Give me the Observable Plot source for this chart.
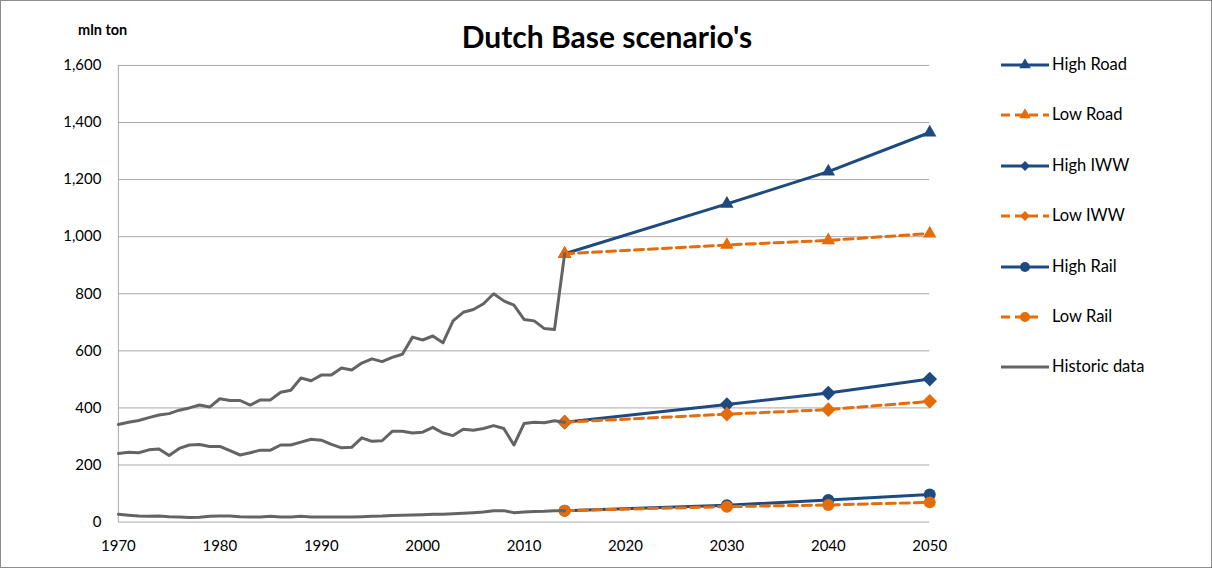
<!DOCTYPE html>
<html>
<head>
<meta charset="utf-8">
<script src="https://cdn.jsdelivr.net/npm/d3@7"></script>
<script src="https://cdn.jsdelivr.net/npm/@observablehq/plot@0.6"></script>
<style>
  html, body { margin: 0; padding: 0; background: #fff; }
  #wrap { position: relative; width: 1212px; height: 568px; box-sizing: border-box; border: 1px solid #8c8c8c; overflow: hidden; font-family: Lato, "Open Sans", sans-serif; }
  #chart { position: absolute; left: -1px; top: -1px; }
  #title { position: absolute; left: 0; width: 1212px; top: 17px; line-height: 36px; text-align: center; font-size: 30px; font-weight: bold; color: #000; }
  #unit { position: absolute; left: 77px; top: 20px; font-size: 14.5px; font-weight: bold; line-height: 18px; }
  #legend { position: absolute; left: 999px; top: 0; }
  .item { position: absolute; left: 0; width: 210px; height: 22px; }
  .item svg { position: absolute; left: 0; top: 0; }
  .item span { position: absolute; left: 52px; top: 0px; font-size: 16.5px; line-height: 20px; white-space: nowrap; color: #000; }
</style>
</head>
<body>
<div id="wrap">
  <div id="chart"></div>
  <div id="title">Dutch Base scenario's</div>
  <div id="unit">mln ton</div>
  <div id="legend"></div>
</div>
<script>
// ---- data ----
const histYears = [1970,1971,1972,1973,1974,1975,1976,1977,1978,1979,1980,1981,1982,1983,1984,1985,1986,1987,1988,1989,1990,1991,1992,1993,1994,1995,1996,1997,1998,1999,2000,2001,2002,2003,2004,2005,2006,2007,2008,2009,2010,2011,2012,2013,2014];
const histRoad = [342,350,356,366,375,380,392,400,410,403,432,426,426,410,428,428,455,462,505,495,515,515,540,533,557,572,562,577,588,648,638,652,628,705,735,745,765,800,775,760,710,705,678,675,940];
const histIWW  = [240,245,243,253,256,233,258,270,272,265,265,250,235,243,252,252,270,270,280,290,287,272,260,262,295,283,285,318,318,312,315,332,312,303,325,322,328,338,328,270,345,350,348,355,350];
const histRail = [27,24,21,20,21,19,18,16,17,20,21,21,19,18,18,20,18,18,20,18,18,18,18,18,19,20,21,23,24,25,26,27,27,29,31,33,35,40,40,33,35,37,38,40,40];

const forecastYears = [2014, 2030, 2040, 2050];
const highRoad = [940, 1115, 1228, 1365];
const lowRoad  = [940, 971, 987, 1011];
const highIWW  = [350, 412, 452, 501];
const lowIWW   = [350, 378, 394, 423];
const highRail = [40, 59, 77, 97];
const lowRail  = [40, 54, 60, 69];

const seriesNames = ["High Road", "Low Road", "High IWW", "Low IWW", "High Rail", "Low Rail", "Historic data"];
const xTicks = [1970, 1980, 1990, 2000, 2010, 2020, 2030, 2040, 2050];
const yTicks = [0, 200, 400, 600, 800, 1000, 1200, 1400, 1600];

// ---- styles ----
const BLUE = "#1f4a80", ORANGE = "#e46c0a", GRAY = "#646464";
const styleOf = {
  "High Road": {color: BLUE, dash: null, symbol: "triangle", r: 5},
  "Low Road":  {color: ORANGE, dash: "9,5", symbol: "triangle", r: 5},
  "High IWW":  {color: BLUE, dash: null, symbol: "diamond2", r: 6.6},
  "Low IWW":   {color: ORANGE, dash: "9,5", symbol: "diamond2", r: 6.6},
  "High Rail": {color: BLUE, dash: null, symbol: "circle", r: 6},
  "Low Rail":  {color: ORANGE, dash: "9,5", symbol: "circle", r: 6}
};

const forecasts = {"High Road": highRoad, "Low Road": lowRoad, "High IWW": highIWW, "Low IWW": lowIWW, "High Rail": highRail, "Low Rail": lowRail};
const fRows = name => forecastYears.map((year, i) => ({year, value: forecasts[name][i], series: name}));
const historic = [histRoad, histIWW, histRail].map((arr, k) => histYears.map((year, i) => ({year, value: arr[i], group: k})));

const marks = [
  Plot.ruleY(yTicks.slice(1), {stroke: "#a9a9a9", strokeWidth: 1}),
  Plot.ruleX([1970], {stroke: "#a9a9a9", strokeWidth: 1}),
  Plot.ruleY([0], {stroke: "#a9a9a9", strokeWidth: 1}),
  Plot.axisY({ticks: yTicks, tickSize: 0, tickPadding: 17, tickFormat: d3.format(","), label: null, fontSize: 15}),
  Plot.axisX({ticks: xTicks, tickSize: 0, tickPadding: 18, tickFormat: d => String(d), label: null, fontSize: 15})
];
for (const name of seriesNames.slice(0, 6)) {
  const s = styleOf[name];
  const rows = fRows(name);
  marks.push(Plot.line(rows, {x: "year", y: "value", stroke: s.color, strokeWidth: 3, strokeDasharray: s.dash}));
  marks.push(Plot.dot(rows, {x: "year", y: "value", symbol: () => s.symbol, r: s.r, fill: s.color, stroke: "none"}));
}
for (const h of historic) {
  marks.push(Plot.line(h, {x: "year", y: "value", stroke: GRAY, strokeWidth: 3}));
}

const chart = Plot.plot({
  width: 1212,
  height: 568,
  marginLeft: 118,
  marginRight: 282,
  marginTop: 65,
  marginBottom: 46,
  x: {domain: [1970, 2050]},
  y: {domain: [0, 1600]},
  symbol: {type: "identity"},
  style: {fontFamily: "Lato, 'Open Sans', sans-serif", fontSize: "15px", color: "#000", background: "transparent"},
  marks
});
document.getElementById("chart").appendChild(chart);

// ---- legend ----
const legend = document.getElementById("legend");
const legendY = [64, 114, 165, 215, 266, 316, 366];
function symbolPath(sym, r) {
  const map = {triangle: d3.symbolTriangle, diamond2: d3.symbolDiamond2, circle: d3.symbolCircle};
  return d3.symbol(map[sym], Math.PI * r * r)();
}
seriesNames.forEach((name, i) => {
  const div = document.createElement("div");
  div.className = "item";
  div.style.top = (legendY[i] - 11) + "px";
  const svg = d3.create("svg").attr("width", 50).attr("height", 22);
  if (name === "Historic data") {
    svg.append("line").attr("x1", 1).attr("x2", 49).attr("y1", 11).attr("y2", 11).attr("stroke", GRAY).attr("stroke-width", 3);
  } else {
    const s = styleOf[name];
    const x2 = name === "Low Rail" ? 38 : 49;
    svg.append("line").attr("x1", 1).attr("x2", x2).attr("y1", 11).attr("y2", 11)
      .attr("stroke", s.color).attr("stroke-width", 3).attr("stroke-dasharray", s.dash);
    const rr = s.symbol === "circle" ? 5 : s.symbol === "triangle" ? 4.3 : 4.5;
    svg.append("path").attr("d", symbolPath(s.symbol, rr)).attr("transform", "translate(25,11)").attr("fill", s.color);
  }
  div.appendChild(svg.node());
  const span = document.createElement("span");
  span.textContent = name;
  div.appendChild(span);
  legend.appendChild(div);
});
</script>
</body>
</html>
